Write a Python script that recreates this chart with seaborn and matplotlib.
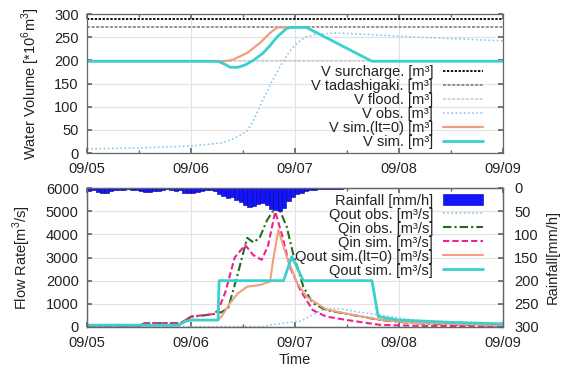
import numpy as np
import pandas as pd
import matplotlib
matplotlib.use("Agg")
import matplotlib.pyplot as plt
from matplotlib.ticker import MultipleLocator, FixedLocator
import seaborn as sns

# ---------------- data ----------------
day_ticks = [0, 1, 2, 3, 4]
day_labels = ["09/05", "09/06", "09/07", "09/08", "09/09"]

# reservoir volume [10^6 m3]
v_surcharge = 290
v_tadashigaki = 271
v_flood = 198

v_obs_t = [0, 0.5, 1.0, 1.3, 1.4, 1.47, 1.54, 1.6, 1.69, 1.78, 1.86, 1.95, 2.02, 2.1, 2.2, 2.4, 2.7, 3.0, 3.5, 4.0]
v_obs_v = [9, 11, 15, 22, 30, 38, 48, 70, 114, 155, 188, 220, 237, 250, 256, 259, 256, 252, 247, 242]

v_sim0_t = [0, 1.28, 1.35, 1.4, 1.54, 1.66, 1.76, 1.83, 2.05]
v_sim0_v = [198, 198, 199, 201, 216, 237, 259, 271, 271]

v_sim_t = [0, 1.26, 1.32, 1.38, 1.45, 1.52, 1.6, 1.69, 1.76, 1.83, 1.92, 1.96, 2.11, 2.74, 4.0]
v_sim_v = [198, 198, 192, 185, 185, 190, 200, 215, 232, 251, 269, 271, 271, 198, 198]

# flows [m3/s]
qin_obs_t = [0, 0.5, 0.56, 0.9, 1.0, 1.2, 1.3, 1.36, 1.45, 1.54, 1.6, 1.66, 1.73, 1.83, 1.92, 1.98, 2.08, 2.17, 2.3, 2.5, 2.82, 3.13, 3.5, 4.0]
qin_obs_v = [50, 60, 165, 165, 440, 540, 650, 850, 2300, 3850, 3650, 3850, 4600, 5300, 4330, 3200, 1740, 1030, 730, 560, 300, 170, 100, 60]

qin_sim_t = [0, 0.5, 0.56, 0.9, 1.0, 1.2, 1.26, 1.33, 1.42, 1.52, 1.6, 1.68, 1.74, 1.81, 1.88, 1.95, 2.05, 2.17, 2.3, 2.5, 2.82, 3.2, 4.0]
qin_sim_v = [50, 60, 170, 170, 450, 550, 700, 1500, 3000, 3540, 3100, 2900, 3500, 4980, 3900, 2600, 1600, 730, 450, 300, 90, 50, 40]

qout_sim0_t = [0, 0.88, 0.95, 1.0, 1.26, 1.3, 1.375, 1.45, 1.54, 1.66, 1.76, 1.79, 1.84, 1.92, 2.02, 2.11, 2.3, 2.5, 2.82, 3.13, 4.0]
qout_sim0_v = [80, 80, 250, 300, 300, 500, 1030, 1450, 1740, 1810, 1960, 2890, 4190, 3040, 1900, 1310, 760, 570, 310, 180, 70]

qout_sim_t = [0, 0.88, 0.95, 1.0, 1.26, 1.27, 1.89, 1.97, 2.08, 2.74, 2.8, 3.0, 3.5, 4.0]
qout_sim_v = [80, 80, 250, 300, 300, 2000, 2000, 3040, 2000, 2000, 450, 300, 200, 130]

qout_obs_t = [0, 1.7, 1.76, 1.9, 2.05, 2.12, 2.2, 2.3, 2.45, 2.6, 2.82, 3.13, 3.5, 4.0]
qout_obs_v = [20, 20, 90, 170, 250, 400, 600, 800, 780, 650, 520, 300, 220, 170]

# hourly rainfall [mm/h], 09/05 00:00 .. 09/08 23:00
rain_mm = [6, 5, 8, 10, 10, 6, 5, 5, 4, 3, 4, 5, 7, 8, 8, 7, 6, 4, 3, 5, 6, 5, 10, 11,
           11, 9, 6, 5, 4, 6, 12, 18, 22, 20, 25, 30, 36, 40, 38, 34, 32, 36, 45, 48, 50, 44, 28, 20,
           14, 10, 7, 5, 4, 3, 3, 2, 2, 2, 2, 1, 1, 1, 1, 1, 1, 1, 1, 0, 0, 0, 0, 0,
           0, 0, 0, 0, 0, 0, 0, 0, 0, 0, 0, 0, 0, 0, 0, 0, 0, 0, 0, 0, 0, 0, 0, 0]
rain_t = [h / 24 for h in range(len(rain_mm))]

# ---------------- style ----------------
sns.set_theme(style="ticks")
plt.rcParams["font.family"] = ["Liberation Sans", "DejaVu Sans"]
plt.rcParams["mathtext.fontset"] = "custom"
plt.rcParams["mathtext.rm"] = "Liberation Sans"
FS = 10.5
plt.rcParams.update({
    "font.size": FS, "axes.labelsize": FS, "xtick.labelsize": FS, "ytick.labelsize": FS,
    "legend.fontsize": FS, "axes.edgecolor": "#666666", "axes.linewidth": 0.9,
    "text.color": "#222222", "axes.labelcolor": "#222222",
    "xtick.color": "#666666", "ytick.color": "#666666",
    "xtick.labelcolor": "#222222", "ytick.labelcolor": "#222222",
})

C_CYAN = "#3ad0cc"
C_SALMON = "#f0a080"
C_OBS = "#8cc8ec"
C_GREEN = "#1e6e1e"
C_PINK = "#f0208c"

fig = plt.figure(figsize=(5.63, 3.72), dpi=100)
L, R = 87 / 563, 503 / 563
ax1 = fig.add_axes([L, 1 - 153 / 372, R - L, (153 - 14) / 372])
ax2 = fig.add_axes([L, 1 - 327 / 372, R - L, (327 - 188) / 372])


def style_axes(ax):
    ax.set_xlim(0, 4)
    ax.xaxis.set_major_locator(FixedLocator(day_ticks))
    ax.set_xticklabels(day_labels)
    ax.xaxis.set_minor_locator(MultipleLocator(0.5))
    ax.grid(True, which="major", color="#e2e2e2", lw=0.8)
    ax.set_axisbelow(True)
    ax.tick_params(which="both", direction="in", top=True, length=3.5)
    ax.tick_params(axis="x", pad=6.5)
    ax.tick_params(axis="y", pad=6)
    ax.tick_params(which="minor", length=2.5)


LEG = dict(frameon=False, markerfirst=False, labelspacing=0.0, handlelength=2.7,
           handletextpad=0.7, borderpad=0.1, borderaxespad=0.0)

# ---------------- top: volume ----------------
style_axes(ax1)
ax1.set_ylim(0, 300)
ax1.yaxis.set_major_locator(MultipleLocator(50))
ax1.tick_params(axis="y", right=True)

ax1.axhline(v_surcharge, color="#111111", ls=(0, (1.2, 0.8)), lw=1.4, label="V surcharge. [m³]")
ax1.axhline(v_tadashigaki, color="#777777", ls=(0, (2, 1)), lw=1.1, label="V tadashigaki. [m³]")
ax1.axhline(v_flood, color="#c8c8c8", ls=(0, (2, 1)), lw=1.1, label="V flood. [m³]")
sns.lineplot(x=v_obs_t, y=v_obs_v, ax=ax1, color=C_OBS, ls=(0, (1, 1.5)), lw=1.2, label="V obs. [m³]", legend=False)
sns.lineplot(x=v_sim0_t, y=v_sim0_v, ax=ax1, color=C_SALMON, lw=1.6, label="V sim.(lt=0) [m³]", legend=False)
sns.lineplot(x=v_sim_t, y=v_sim_v, ax=ax1, color=C_CYAN, lw=2.0, label="V sim. [m³]", legend=False)
ax1.set_xlabel("")
ax1.set_ylabel("Water Volume [*10$^6$m$^3$]", labelpad=9)

h1, l1 = ax1.get_legend_handles_labels()
ax1.legend(h1, l1, loc="lower right", bbox_to_anchor=(0.955, 0.02), **LEG)

# ---------------- bottom: flows + rainfall ----------------
style_axes(ax2)
ax2.set_ylim(0, 6000)
ax2.yaxis.set_major_locator(MultipleLocator(1000))

sns.lineplot(x=qout_obs_t, y=qout_obs_v, ax=ax2, color=C_OBS, ls=(0, (1, 1.5)), lw=1.2, label="Qout obs. [m³/s]", legend=False)
sns.lineplot(x=qin_obs_t, y=qin_obs_v, ax=ax2, color=C_GREEN, ls=(0, (4, 1.5, 1, 1.5)), lw=1.5, label="Qin obs. [m³/s]", legend=False)
sns.lineplot(x=qin_sim_t, y=qin_sim_v, ax=ax2, color=C_PINK, ls=(0, (3, 1.5)), lw=1.5, label="Qin sim. [m³/s]", legend=False)
sns.lineplot(x=qout_sim0_t, y=qout_sim0_v, ax=ax2, color=C_SALMON, lw=1.5, label="Qout sim.(lt=0) [m³/s]", legend=False)
sns.lineplot(x=qout_sim_t, y=qout_sim_v, ax=ax2, color=C_CYAN, lw=2.0, label="Qout sim. [m³/s]", legend=False)
ax2.set_xlabel("Time", labelpad=2)
ax2.set_ylabel("Flow Rate[m$^3$/s]", labelpad=9)

ax3 = ax2.twinx()
ax3.set_ylim(300, 0)
ax3.set_xlim(0, 4)
ax3.yaxis.set_major_locator(MultipleLocator(50))
ax3.tick_params(axis="y", direction="in", length=3.5, pad=8)
ax3.bar(rain_t, rain_mm, width=1 / 24, align="edge", color="#1414ff", edgecolor="#00008c",
        linewidth=0.4, label="Rainfall [mm/h]")
ax3.set_ylabel("Rainfall[mm/h]", labelpad=5)
ax3.grid(False)

h2, l2 = ax2.get_legend_handles_labels()
h3, l3 = ax3.get_legend_handles_labels()
ax3.legend(h3 + h2, l3 + l2, loc="upper right", bbox_to_anchor=(0.955, 0.97), handleheight=0.75, **LEG)

fig.savefig("out.png", dpi=100)
